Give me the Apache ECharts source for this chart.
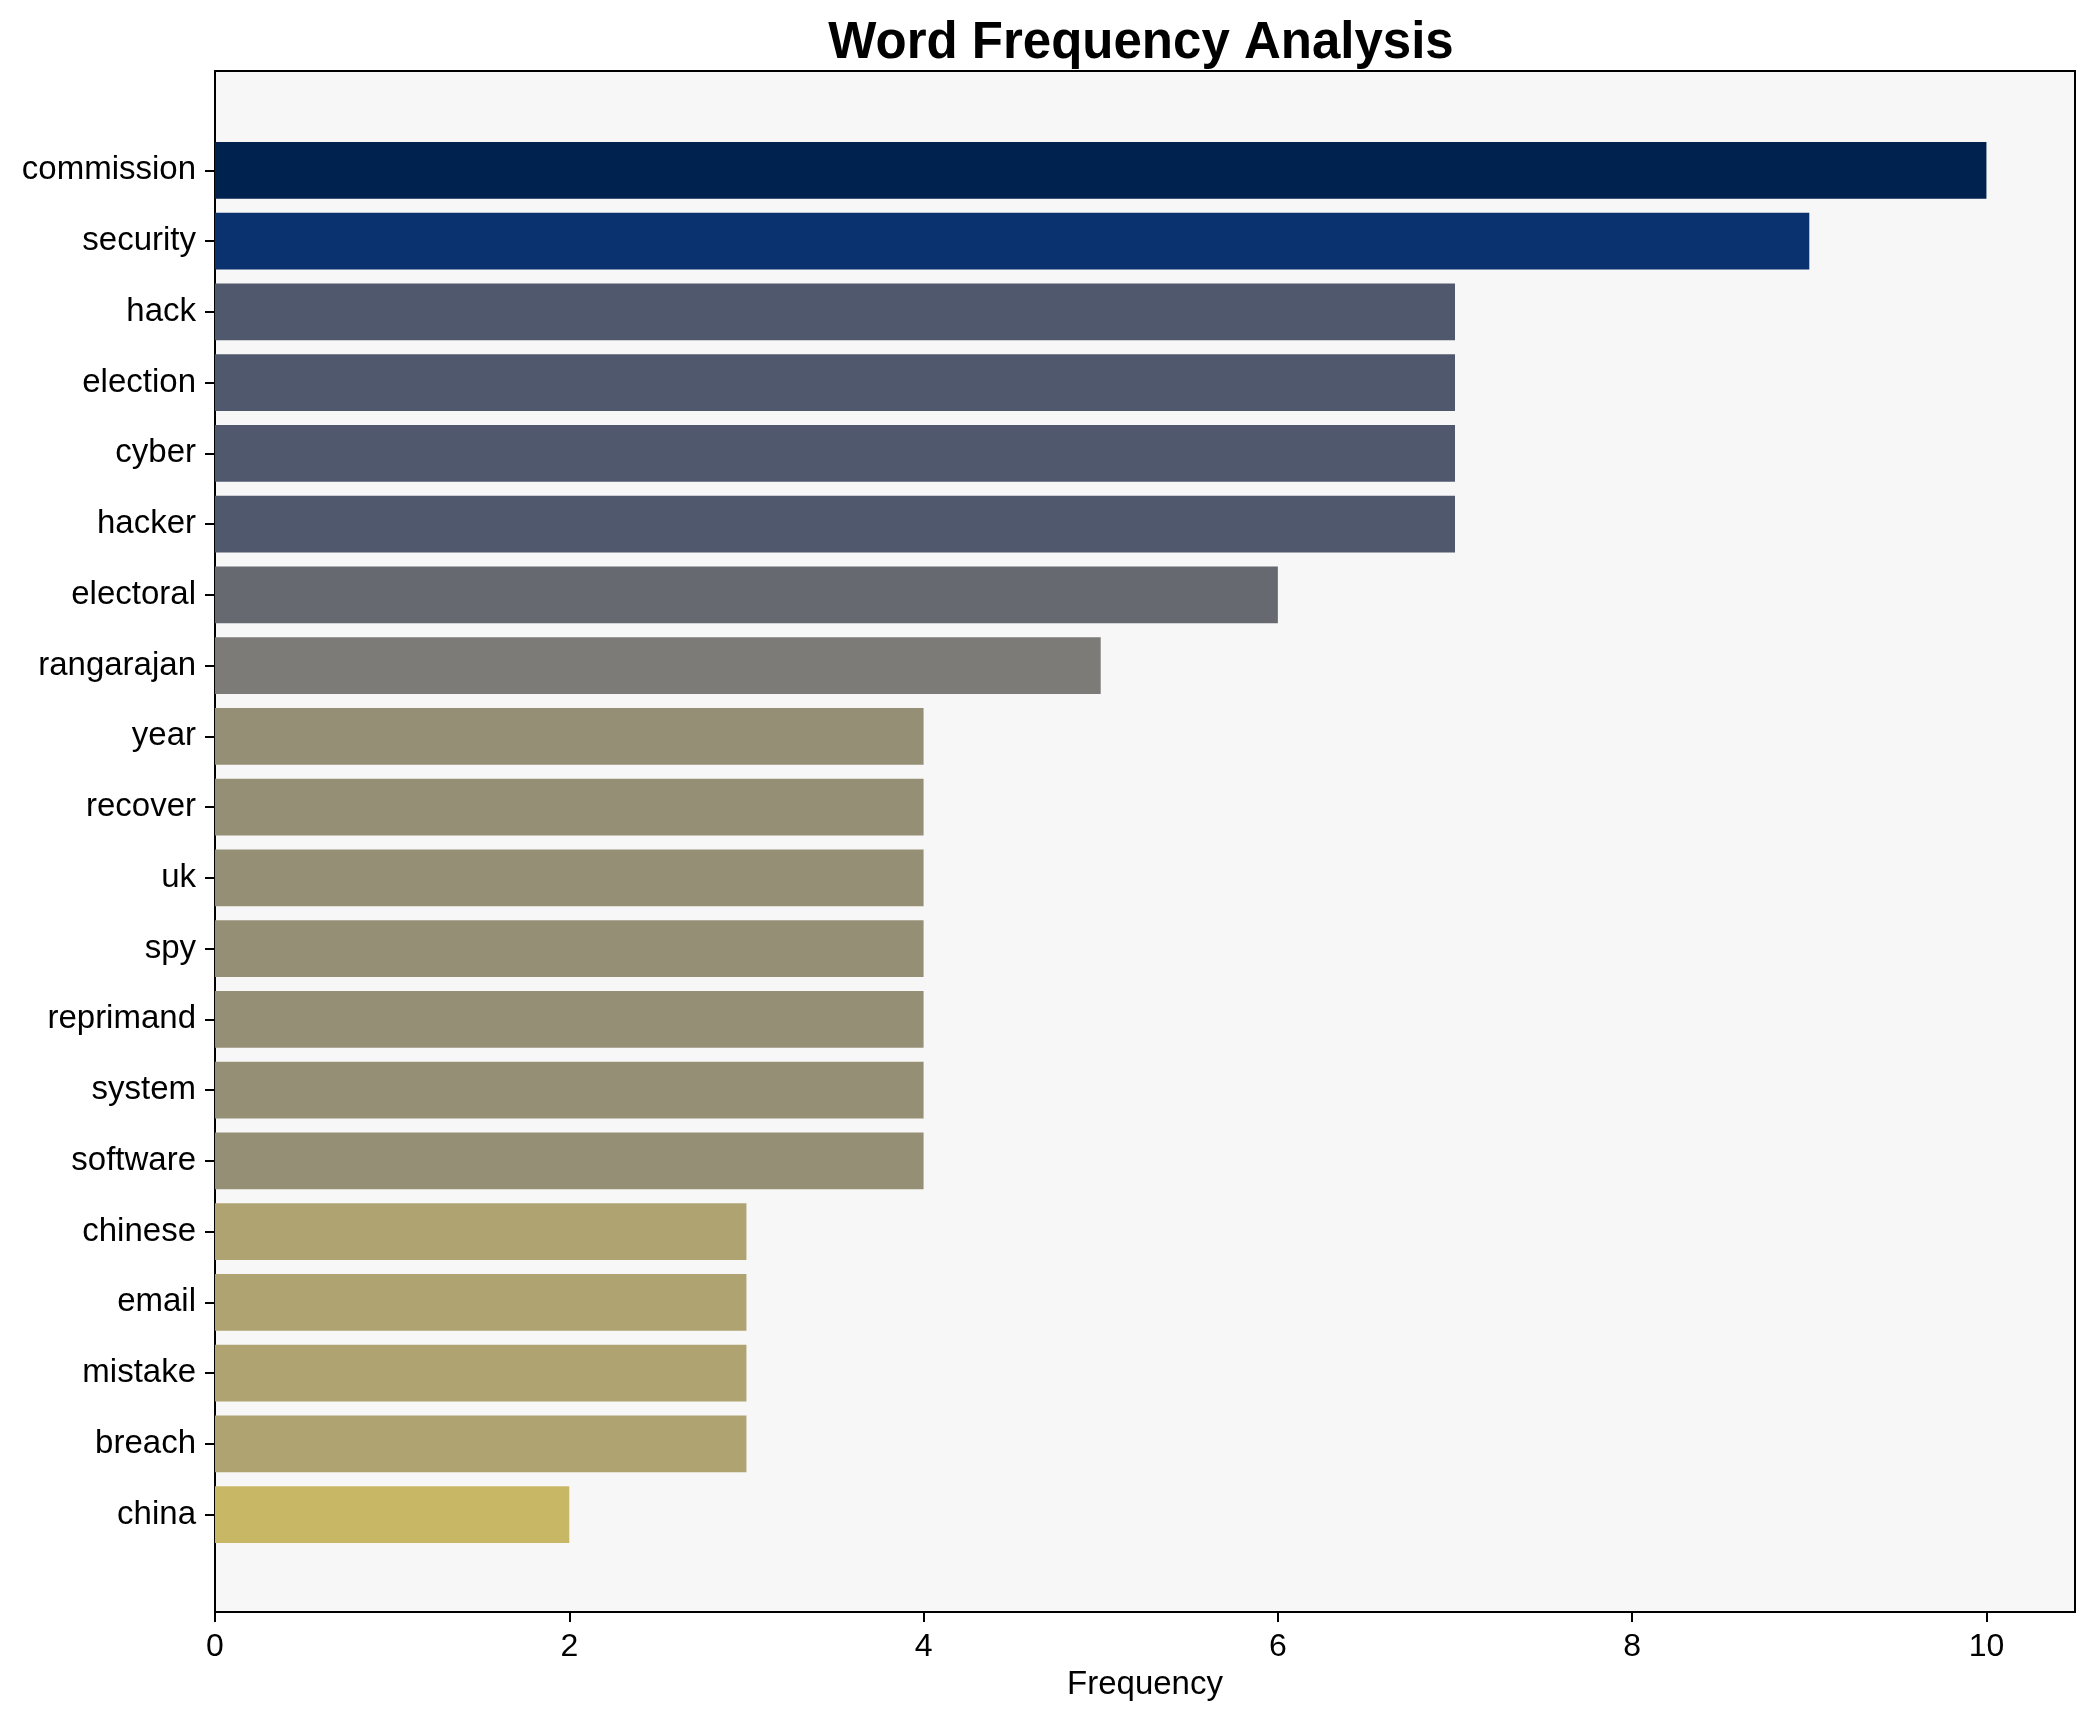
<!DOCTYPE html>
<html>
<head>
<meta charset="utf-8">
<script src="https://cdn.jsdelivr.net/npm/echarts@6/dist/echarts.min.js"></script>
<style>
  html, body { margin: 0; padding: 0; background: #ffffff; }
  #chart { width: 2095px; height: 1722px; }
</style>
</head>
<body>
<div id="chart"></div>
<script>
const words = ['commission','security','hack','election','cyber','hacker','electoral','rangarajan','year','recover','uk','spy','reprimand','system','software','chinese','email','mistake','breach','china'];
const freqs = [10, 9, 7, 7, 7, 7, 6, 5, 4, 4, 4, 4, 4, 4, 4, 3, 3, 3, 3, 2];
const xTicks = [0, 2, 4, 6, 8, 10];

const colorByFreq = { 10: '#00224e', 9: '#0a326e', 7: '#4f586c', 6: '#676970', 5: '#7c7b78', 4: '#958f76', 3: '#afa471', 2: '#c8b866' };
const FONT = '"Liberation Sans", Arial, sans-serif';

const chart = echarts.init(document.getElementById('chart'), null, { renderer: 'canvas' });
chart.setOption({
  animation: false,
  backgroundColor: '#ffffff',
  title: {
    text: 'Word Frequency Analysis',
    left: 1141,
    top: 18,
    padding: 0,
    textAlign: 'center',
    textStyle: { fontFamily: FONT, fontSize: 51, fontWeight: 'bold', color: '#000' }
  },
  grid: [
    { left: 215, top: 71, width: 1860, height: 1541, show: true, backgroundColor: '#f7f7f7', borderColor: '#000', borderWidth: 2, containLabel: false },
    { left: 215, top: 135, width: 1860, height: 1415, show: false, containLabel: false }
  ],
  xAxis: [
    {
      gridIndex: 0, type: 'value', min: 0, max: 10.5,
      axisLine: { show: true, lineStyle: { color: '#000', width: 2 } },
      axisTick: { show: true, length: 10, customValues: xTicks, lineStyle: { color: '#000', width: 2 } },
      axisLabel: { customValues: xTicks, fontFamily: FONT, fontSize: 32, color: '#000', margin: 19 },
      splitLine: { show: false },
      name: 'Frequency', nameLocation: 'middle', nameGap: 56,
      nameTextStyle: { fontFamily: FONT, fontSize: 33, color: '#000' }
    },
    { gridIndex: 1, type: 'value', min: 0, max: 10.5, show: false, splitLine: { show: false } }
  ],
  yAxis: [
    { gridIndex: 0, type: 'value', show: false, splitLine: { show: false } },
    {
      gridIndex: 1, type: 'category', data: words, inverse: true,
      axisLine: { show: false },
      axisTick: { show: true, alignWithLabel: true, length: 10, lineStyle: { color: '#000', width: 2 } },
      axisLabel: { fontFamily: FONT, fontSize: 33, color: '#000', margin: 19, padding: [5, 0, 0, 0] },
      splitLine: { show: false }
    }
  ],
  series: [{
    type: 'bar',
    xAxisIndex: 1, yAxisIndex: 1,
    barCategoryGap: '20%',
    data: freqs.map(v => ({ value: v, itemStyle: { color: colorByFreq[v] } }))
  }]
});
</script>
</body>
</html>
